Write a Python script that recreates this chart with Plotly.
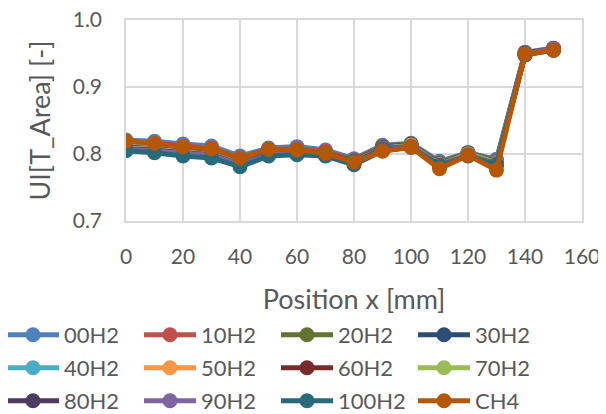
import plotly.graph_objects as go

positions = [0, 10, 20, 30, 40, 50, 60, 70, 80, 90, 100, 110, 120, 130, 140, 150]

s00H2 = [0.821, 0.819, 0.815, 0.812, 0.797, 0.809, 0.811, 0.806, 0.793, 0.813, 0.816, 0.789, 0.802, 0.792, 0.952, 0.958]
s10H2 = [0.818, 0.816, 0.812, 0.809, 0.794, 0.807, 0.808, 0.804, 0.791, 0.812, 0.815, 0.787, 0.801, 0.790, 0.951, 0.958]
s20H2 = [0.815, 0.813, 0.809, 0.806, 0.792, 0.805, 0.806, 0.802, 0.790, 0.811, 0.815, 0.786, 0.802, 0.789, 0.950, 0.957]
s30H2 = [0.813, 0.811, 0.807, 0.804, 0.790, 0.804, 0.805, 0.801, 0.789, 0.810, 0.814, 0.785, 0.801, 0.788, 0.950, 0.957]
s40H2 = [0.812, 0.810, 0.806, 0.803, 0.789, 0.803, 0.804, 0.800, 0.788, 0.809, 0.813, 0.784, 0.800, 0.787, 0.949, 0.956]
s50H2 = [0.811, 0.809, 0.805, 0.802, 0.788, 0.802, 0.803, 0.800, 0.787, 0.808, 0.813, 0.784, 0.800, 0.787, 0.949, 0.956]
s60H2 = [0.810, 0.808, 0.804, 0.801, 0.787, 0.801, 0.803, 0.799, 0.787, 0.808, 0.812, 0.783, 0.799, 0.786, 0.949, 0.956]
s70H2 = [0.809, 0.807, 0.803, 0.800, 0.786, 0.800, 0.802, 0.799, 0.786, 0.807, 0.812, 0.783, 0.799, 0.786, 0.948, 0.955]
s80H2 = [0.808, 0.806, 0.802, 0.799, 0.785, 0.800, 0.801, 0.798, 0.786, 0.807, 0.811, 0.783, 0.798, 0.785, 0.948, 0.956]
s90H2 = [0.807, 0.805, 0.801, 0.798, 0.784, 0.799, 0.801, 0.798, 0.785, 0.806, 0.811, 0.782, 0.798, 0.785, 0.949, 0.957]
s100H2 = [0.805, 0.802, 0.797, 0.794, 0.781, 0.797, 0.799, 0.797, 0.784, 0.805, 0.810, 0.782, 0.797, 0.784, 0.948, 0.955]
sCH4 = [0.819, 0.816, 0.811, 0.808, 0.794, 0.807, 0.806, 0.801, 0.788, 0.804, 0.810, 0.778, 0.798, 0.776, 0.949, 0.955]

series_names = ["00H2", "10H2", "20H2", "30H2", "40H2", "50H2",
                "60H2", "70H2", "80H2", "90H2", "100H2", "CH4"]
series_values = [s00H2, s10H2, s20H2, s30H2, s40H2, s50H2,
                 s60H2, s70H2, s80H2, s90H2, s100H2, sCH4]
colors = ["#4F81BD", "#C0504D", "#5F7530", "#2C4D75", "#4BACC6", "#F79646",
          "#772C2A", "#9BBB59", "#4D3B62", "#8064A2", "#276A7C", "#B65708"]

FONT = "Lato"
TXT = "#595959"
GRID = "#D9D9D9"
# the page adds an 8px body margin, so the figure is 8px smaller each way
W, H = 598, 406
ML, MR, MT, MB = 118, 24, 12, 193
PW, PH = W - ML - MR, H - MT - MB

legend_ids = ["legend", "legend2", "legend3"]

fig = go.Figure()
for i, (name, vals, col) in enumerate(zip(series_names, series_values, colors)):
    fig.add_trace(go.Scatter(
        x=positions, y=vals, name=name, mode="lines+markers",
        line=dict(color=col, width=5),
        marker=dict(color=col, size=15),
        legend=legend_ids[i // 4],
    ))

row_centers = [327, 360, 393]


def make_legend(yc):
    return dict(
        orientation="h",
        x=(-6 - ML) / PW, xanchor="left", y=(H - MB - yc) / PH, yanchor="middle",
        font=dict(family=FONT, color=TXT, size=22),
        entrywidth=70, entrywidthmode="pixels", itemwidth=52,
        bgcolor="rgba(0,0,0,0)", borderwidth=0,
    )


fig.update_layout(
    width=W, height=H,
    margin=dict(l=ML, r=MR, t=MT, b=MB, autoexpand=False),
    paper_bgcolor="white", plot_bgcolor="white",
    font=dict(family=FONT, color=TXT, size=21),
    showlegend=True,
    legend=make_legend(row_centers[0]),
    legend2=make_legend(row_centers[1]),
    legend3=make_legend(row_centers[2]),
    xaxis=dict(
        range=[0, 160], tickvals=[0, 20, 40, 60, 80, 100, 120, 140, 160],
        showgrid=True, gridcolor=GRID, gridwidth=1.5,
        showline=True, linecolor=GRID, linewidth=1.5, mirror=True,
        zeroline=False,
        ticks="outside", ticklen=16, tickcolor="rgba(0,0,0,0)",
        ticklabeloverflow="allow",
        tickfont=dict(family=FONT, size=21, color=TXT),
        title=dict(text="Position x [mm]", font=dict(family=FONT, size=27, color=TXT), standoff=23),
        automargin=False,
    ),
    yaxis=dict(
        range=[0.7, 1.0], tickvals=[0.7, 0.8, 0.9, 1.0], ticktext=["0.7", "0.8", "0.9", "1.0"],
        showgrid=True, gridcolor=GRID, gridwidth=1.5,
        showline=True, linecolor=GRID, linewidth=1.5, mirror=True,
        zeroline=False,
        ticks="outside", ticklen=18, tickcolor="rgba(0,0,0,0)",
        ticklabeloverflow="allow",
        tickfont=dict(family=FONT, size=21, color=TXT),
        title=dict(text="UI[T_Area] [-]", font=dict(family=FONT, size=27, color=TXT), standoff=14),
        automargin=False,
    ),
)

fig.write_html("out.html")
